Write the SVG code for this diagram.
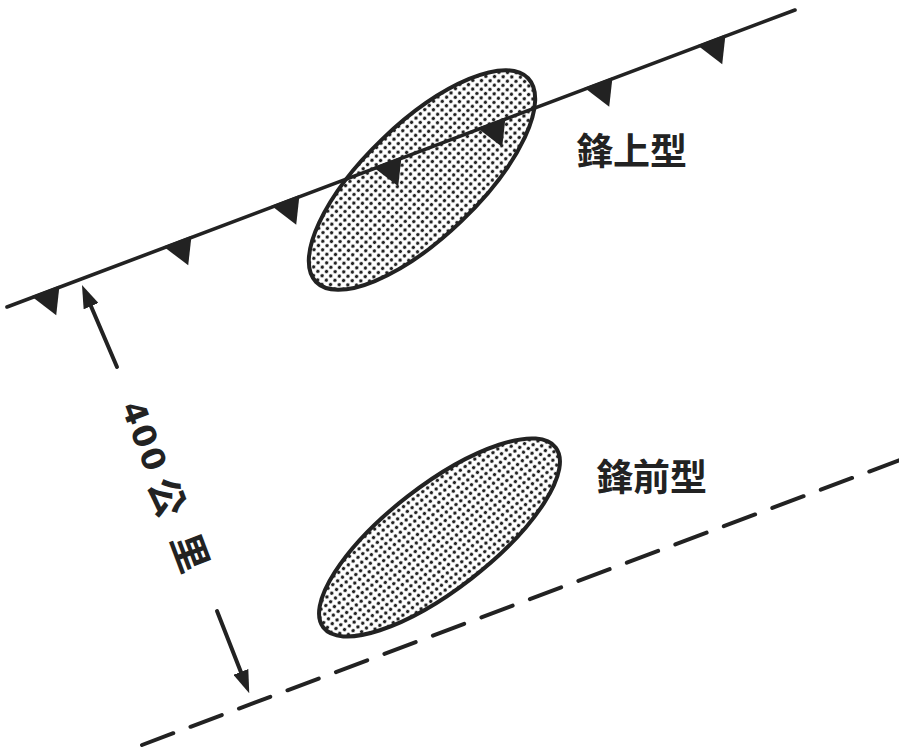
<svg xmlns="http://www.w3.org/2000/svg" width="899" height="747" viewBox="0 0 899 747">
<style>
.ink{stroke:#222;fill:none;stroke-linecap:round;stroke-linejoin:round}
.blob{stroke:#222;stroke-width:4;fill:url(#dots)}
.tri{fill:#222}
.lbl{font-family:"Noto Sans CJK TC","Noto Sans CJK SC",sans-serif;font-size:37px;font-weight:bold;fill:#222}
.dist{font-family:"Noto Sans CJK TC","Noto Sans CJK SC",sans-serif;font-size:38px;font-weight:bold;fill:#222}
</style>
<defs>
<pattern id="dots" patternUnits="userSpaceOnUse" width="6.1" height="6.1">
<rect width="6.1" height="6.1" fill="#fff"/>
<circle cx="3.05" cy="3.05" r="1.75" fill="#222"/>
</pattern>
<path id="barb" d="M-15,-1.5 L15,-1.5 L1.5,25 Z"/>
<marker id="ah" markerUnits="userSpaceOnUse" viewBox="0 0 23 16" markerWidth="23" markerHeight="16" refX="13" refY="8" orient="auto">
<path d="M0,0 L23,8 L0,16 Z" fill="#222"/>
</marker>
</defs>
<rect width="899" height="747" fill="#fff"/>

<g id="ellipse-upper">
<ellipse class="blob" cx="422" cy="180" rx="147" ry="57" transform="rotate(-43.8 422 180)"/>
</g>
<g id="ellipse-lower">
<ellipse class="blob" cx="439.5" cy="537.5" rx="147" ry="52" transform="rotate(-37.8 439.5 537.5)"/>
</g>

<g id="cold-front">
<line class="ink" x1="7" y1="307" x2="795" y2="10" stroke-width="3.6"/>
<g class="tri">
<use href="#barb" transform="translate(46 292.3) rotate(-20.65)"/>
<use href="#barb" transform="translate(178 242.5) rotate(-20.65)"/>
<use href="#barb" transform="translate(286 201.8) rotate(-20.65)"/>
<use href="#barb" transform="translate(388 163.4) rotate(-20.65)"/>
<use href="#barb" transform="translate(492 124.2) rotate(-20.65)"/>
<use href="#barb" transform="translate(599 83.9) rotate(-20.65)"/>
<use href="#barb" transform="translate(712 41.3) rotate(-20.65)"/>
</g>
</g>

<g id="pre-frontal-line">
<line class="ink" x1="142" y1="745" x2="910" y2="456.2" stroke-width="4" stroke-dasharray="33.4 18.4"/>
</g>

<g id="connectors">
<line class="ink" x1="117" y1="367" x2="85.9" y2="294.2" stroke-width="4" stroke-linecap="butt" marker-end="url(#ah)"/>
<line class="ink" x1="217" y1="611" x2="245.6" y2="684" stroke-width="4" stroke-linecap="butt" marker-end="url(#ah)"/>
</g>

<g id="label-distance" transform="rotate(69.35)">
<text x="423" y="30" font-family="DejaVu Sans, sans-serif" font-weight="bold" font-size="32" letter-spacing="2.4" fill="#222">400</text>
<text class="dist" x="505" y="33">公</text>
<text class="dist" x="565.3" y="30.8">里</text>
</g>

<g id="label-upper">
<text class="lbl" x="576" y="165">鋒上型</text>
</g>
<g id="label-lower">
<text class="lbl" x="596" y="491">鋒前型</text>
</g>
</svg>
